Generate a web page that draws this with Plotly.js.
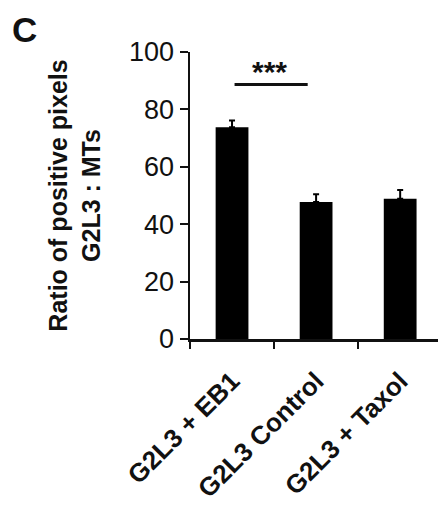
<!DOCTYPE html>
<html>
<head>
<meta charset="utf-8">
<script src="https://cdn.plot.ly/plotly-3.0.1.min.js"></script>
<style>html,body{margin:0;padding:0;background:#fff;}#chart{width:438px;height:505px;}</style>
</head>
<body>
<div id="chart"></div>
<script>
// Data
var categories = ["G2L3 + EB1", "G2L3 Control", "G2L3 + Taxol"];
var ratioValues = [73.8, 47.7, 48.9];
var ratioErrors = [2.3, 2.7, 3.0];
var yTickValues = [0, 20, 40, 60, 80, 100];
var significanceLabel = "***";
var significanceLevel = 88.7;
var panelLabel = "C";
var yTitleLines = ["Ratio of positive pixels", "G2L3 : MTs"];

var FONT = "Liberation Sans, Arial, Helvetica, sans-serif";
var INK = "#111111";

var trace = {
  type: "bar",
  x: categories,
  y: ratioValues,
  width: 0.39,
  marker: {color: "#000000", line: {width: 0}},
  error_y: {
    type: "data",
    symmetric: false,
    array: ratioErrors,
    arrayminus: [0, 0, 0],
    color: "#000000",
    thickness: 2,
    width: 3
  },
  hoverinfo: "none"
};

var layout = {
  width: 438,
  height: 505,
  margin: {l: 190, r: 0, t: 52, b: 166},
  paper_bgcolor: "#ffffff",
  plot_bgcolor: "#ffffff",
  showlegend: false,
  font: {family: FONT, color: INK},
  xaxis: {
    type: "category",
    range: [-0.5, 2.45],
    tickson: "boundaries",
    ticks: "outside",
    ticklen: 7,
    tickwidth: 2,
    tickcolor: INK,
    showline: true,
    linecolor: INK,
    linewidth: 2.5,
    showgrid: false,
    zeroline: false,
    tickangle: -45,
    ticklabelstandoff: 14,
    tickfont: {family: FONT, size: 26, color: INK, weight: 700}
  },
  yaxis: {
    range: [0, 100],
    tickvals: yTickValues,
    ticks: "outside",
    ticklen: 8,
    tickwidth: 2,
    tickcolor: INK,
    showline: true,
    linecolor: INK,
    linewidth: 2.5,
    showgrid: false,
    zeroline: false,
    tickfont: {family: FONT, size: 27, color: INK},
    title: {
      text: yTitleLines.join("<br>"),
      font: {family: FONT, size: 25, color: INK, weight: 700},
      standoff: 22
    }
  },
  shapes: [{
    type: "line",
    xref: "x", yref: "y",
    x0: 0.03, x1: 0.9,
    y0: significanceLevel, y1: significanceLevel,
    line: {color: INK, width: 3}
  }],
  annotations: [
    {
      text: significanceLabel,
      xref: "x", yref: "y",
      x: 0.45, y: significanceLevel,
      xanchor: "center", yanchor: "bottom",
      yshift: -6,
      showarrow: false,
      font: {family: FONT, size: 30, color: INK, weight: 700}
    },
    {
      text: panelLabel,
      xref: "paper", yref: "paper",
      x: -0.669, y: 1.08,
      xanchor: "center", yanchor: "middle",
      showarrow: false,
      font: {family: FONT, size: 35, color: INK, weight: 700}
    }
  ]
};

Plotly.newPlot("chart", [trace], layout, {staticPlot: true, displayModeBar: false});
</script>
</body>
</html>
